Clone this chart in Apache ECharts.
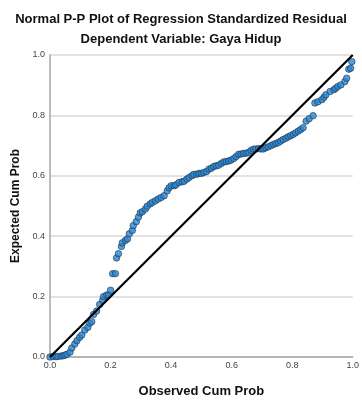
<!DOCTYPE html>
<html>
<head>
<meta charset="utf-8">
<script src="https://cdn.jsdelivr.net/npm/echarts@6/dist/echarts.min.js"></script>
<style>
html,body{margin:0;padding:0;background:#fff;}
#main{width:362px;height:403px;}
</style>
</head>
<body>
<div id="main"></div>
<script>
const titleText = 'Normal P-P Plot of Regression Standardized Residual';
const subtitleText = 'Dependent Variable: Gaya Hidup';
const xAxisName = 'Observed Cum Prob';
const yAxisName = 'Expected Cum Prob';
const tickValues = [0, 0.2, 0.4, 0.6, 0.8, 1.0];

const observedCumProb = [
0.000,0.010,0.020,0.026,0.036,0.043,0.049,0.056,0.066,0.072,
0.082,0.089,0.098,0.105,0.115,0.125,0.131,0.138,0.144,0.154,
0.164,0.174,0.177,0.187,0.193,0.200,0.207,0.216,0.220,0.226,
0.236,0.239,0.249,0.256,0.262,0.272,0.275,0.285,0.292,0.298,
0.305,0.315,0.321,0.331,0.338,0.348,0.357,0.367,0.377,0.387,
0.393,0.400,0.410,0.416,0.426,0.436,0.443,0.452,0.459,0.469,
0.475,0.485,0.492,0.500,0.508,0.517,0.525,0.533,0.541,0.549,
0.557,0.566,0.574,0.582,0.590,0.598,0.607,0.615,0.623,0.631,
0.639,0.648,0.656,0.664,0.672,0.680,0.689,0.697,0.705,0.713,
0.721,0.730,0.738,0.746,0.754,0.762,0.770,0.779,0.787,0.795,
0.803,0.811,0.820,0.828,0.836,0.846,0.856,0.869,0.875,0.885,
0.898,0.905,0.911,0.925,0.938,0.944,0.951,0.961,0.974,0.980,
0.987,0.993,0.997
];
const expectedCumProb = [
0.000,0.001,0.001,0.002,0.003,0.004,0.006,0.009,0.016,0.030,
0.043,0.054,0.065,0.073,0.089,0.098,0.112,0.117,0.141,0.152,
0.174,0.188,0.200,0.205,0.205,0.221,0.276,0.276,0.328,0.342,
0.366,0.378,0.386,0.391,0.408,0.419,0.435,0.448,0.463,0.477,
0.481,0.490,0.499,0.507,0.512,0.517,0.523,0.528,0.534,0.550,
0.560,0.567,0.567,0.570,0.578,0.580,0.582,0.589,0.594,0.600,
0.605,0.605,0.608,0.608,0.611,0.614,0.622,0.625,0.631,0.633,
0.635,0.641,0.646,0.647,0.649,0.652,0.657,0.664,0.671,0.672,
0.674,0.675,0.677,0.684,0.688,0.689,0.690,0.689,0.689,0.693,
0.696,0.700,0.704,0.707,0.710,0.715,0.720,0.724,0.729,0.733,
0.737,0.742,0.748,0.753,0.759,0.781,0.789,0.799,0.841,0.845,
0.852,0.860,0.868,0.879,0.885,0.890,0.896,0.901,0.912,0.923,
0.953,0.956,0.978
];
const referenceLine = [[0, 0], [1, 1]];

const points = observedCumProb.map((x, i) => [x, expectedCumProb[i]]);

const chart = echarts.init(document.getElementById('main'), null, {renderer: 'canvas'});
const fontFamily = '"Liberation Sans", Arial, sans-serif';
const axisCommon = {
  type: 'value', min: 0, max: 1, interval: 0.2,
  nameLocation: 'middle',
  nameTextStyle: {fontFamily, fontSize: 12, fontWeight: 'bold', color: '#111'},
  axisLine: {show: true, lineStyle: {color: '#a6a6a6', width: 1.5}},
  axisTick: {show: false},
  axisLabel: {fontFamily, fontSize: 9, color: '#444', formatter: v => v.toFixed(1)}
};
chart.setOption({
  animation: false,
  backgroundColor: '#ffffff',
  title: [
    {text: titleText, left: 'center', top: 13, padding: 0,
     textStyle: {fontFamily, fontSize: 13, fontWeight: 'bold', color: '#111'}},
    {text: subtitleText, left: 'center', top: 33, padding: 0,
     textStyle: {fontFamily, fontSize: 13, fontWeight: 'bold', color: '#111'}}
  ],
  grid: {left: 50, right: 7, top: 55, bottom: 44, containLabel: false},
  xAxis: Object.assign({}, axisCommon, {
    name: xAxisName, nameGap: 28,
    nameTextStyle: {fontFamily, fontSize: 13, fontWeight: 'bold', color: '#111'},
    splitLine: {show: false},
    axisLabel: Object.assign({}, axisCommon.axisLabel, {margin: 4})
  }),
  yAxis: Object.assign({}, axisCommon, {
    name: yAxisName, nameGap: 25,
    splitLine: {show: true, lineStyle: {color: '#d9d9d9', width: 1.5}},
    axisLabel: Object.assign({}, axisCommon.axisLabel, {margin: 5})
  }),
  series: [
    {
      type: 'scatter', data: points, symbolSize: 6.5,
      itemStyle: {color: '#2a86d1', borderColor: '#1b3550', borderWidth: 0.8},
      z: 2
    },
    {
      type: 'line', data: referenceLine, symbol: 'none',
      lineStyle: {color: '#000', width: 2.2}, z: 3
    }
  ]
});
</script>
</body>
</html>
